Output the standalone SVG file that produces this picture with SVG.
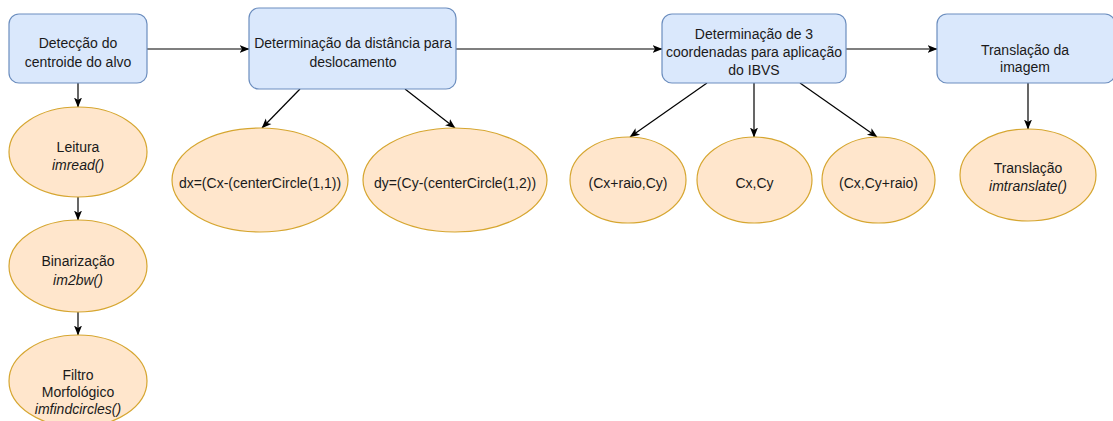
<svg xmlns="http://www.w3.org/2000/svg" width="1113" height="421" viewBox="0 0 1113 421">
<defs>
<marker id="arr" markerUnits="userSpaceOnUse" markerWidth="10" markerHeight="10" viewBox="0 0 10 10" refX="9.5" refY="5" orient="auto">
<path d="M0,1 L10,5 L0,9 L2.5,5 z" fill="#000"/>
</marker>
<style>
.box{fill:#dae8fc;stroke:#6c8ebf;stroke-width:1.2}
.ell{fill:#ffe6cc;stroke:#d6a630;stroke-width:1.2}
text{font-family:"Liberation Sans",Arial,sans-serif;font-size:14px;fill:#1a1a1a;text-anchor:middle}
.it{font-style:italic}
.c{fill:none;stroke:#000;stroke-width:1.2;marker-end:url(#arr)}
</style>
</defs>
<rect width="1113" height="421" fill="#fff"/>
<g id="connectors">
<path class="c" d="M147,49 L249,49"/>
<path class="c" d="M456,49 L662,49"/>
<path class="c" d="M846,49 L937,49"/>
<path class="c" d="M78,83 L78,107"/>
<path class="c" d="M78,197 L78,220"/>
<path class="c" d="M78,312 L78,335"/>
<path class="c" d="M300,89 L262,128"/>
<path class="c" d="M405,89 L455,128"/>
<path class="c" d="M707,83 L630,137"/>
<path class="c" d="M754,83 L754,137"/>
<path class="c" d="M800,83 L877,137"/>
<path class="c" d="M1028,83 L1028,129"/>
</g>
<g id="n1">
<rect class="box" x="9" y="14" width="138" height="69" rx="10"/>
<text x="78" y="48">Detecção do</text>
<text x="78" y="66.5">centroide do alvo</text>
</g>
<g id="n2">
<rect class="box" x="249" y="8" width="207" height="81" rx="10"/>
<text x="353" y="48">Determinação da distância para</text>
<text x="353" y="66.5">deslocamento</text>
</g>
<g id="n3">
<rect class="box" x="662" y="14" width="184" height="69" rx="10"/>
<text x="754" y="39">Determinação de 3</text>
<text x="754" y="57">coordenadas para aplicação</text>
<text x="754" y="75">do IBVS</text>
</g>
<g id="n4">
<rect class="box" x="937" y="14" width="178" height="69" rx="10"/>
<text x="1025" y="55">Translação da</text>
<text x="1025" y="72">imagem</text>
</g>
<g id="e1">
<ellipse class="ell" cx="78" cy="152" rx="69" ry="45"/>
<text x="78" y="152">Leitura</text>
<text class="it" x="78" y="170">imread()</text>
</g>
<g id="e2">
<ellipse class="ell" cx="78" cy="266" rx="69" ry="46"/>
<text x="78" y="266">Binarização</text>
<text class="it" x="78" y="285">im2bw()</text>
</g>
<g id="e3">
<ellipse class="ell" cx="78" cy="381" rx="69" ry="46"/>
<text x="78" y="380">Filtro</text>
<text x="78" y="397">Morfológico</text>
<text class="it" x="78" y="414">imfindcircles()</text>
</g>
<g id="e4">
<ellipse class="ell" cx="260" cy="180" rx="88" ry="52"/>
<text x="260" y="188">dx=(Cx-(centerCircle(1,1))</text>
</g>
<g id="e5">
<ellipse class="ell" cx="455" cy="180" rx="92" ry="52"/>
<text x="455" y="188">dy=(Cy-(centerCircle(1,2))</text>
</g>
<g id="e6">
<ellipse class="ell" cx="628" cy="180" rx="58" ry="43"/>
<text x="628" y="188">(Cx+raio,Cy)</text>
</g>
<g id="e7">
<ellipse class="ell" cx="754.5" cy="180" rx="57.5" ry="43"/>
<text x="754.5" y="188">Cx,Cy</text>
</g>
<g id="e8">
<ellipse class="ell" cx="878.5" cy="180" rx="56.5" ry="43"/>
<text x="878.5" y="188">(Cx,Cy+raio)</text>
</g>
<g id="e9">
<ellipse class="ell" cx="1028" cy="175" rx="68" ry="46"/>
<text x="1028" y="173">Translação</text>
<text class="it" x="1028" y="191">imtranslate()</text>
</g>
</svg>
